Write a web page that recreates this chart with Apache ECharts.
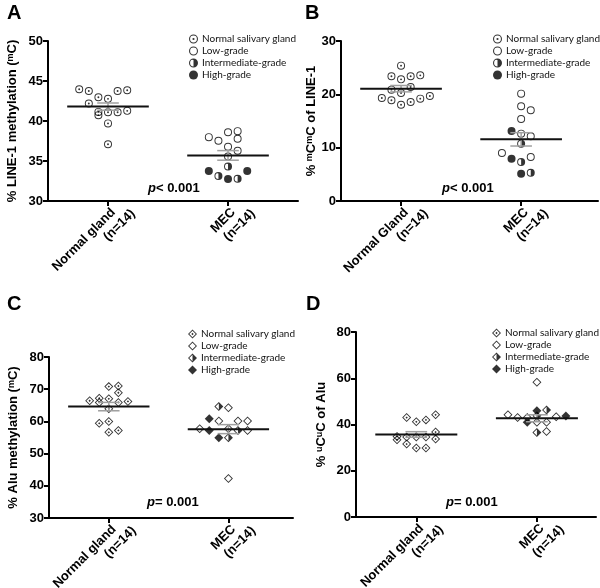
<!DOCTYPE html>
<html>
<head>
<meta charset="utf-8">
<script src="https://cdn.jsdelivr.net/npm/echarts@6/dist/echarts.min.js"></script>
<style>
  html, body { margin: 0; padding: 0; background: #fff; }
  #chart { width: 600px; height: 588px; }
</style>
</head>
<body>
<div id="chart"></div>
<script>
// group labels
const groupsA = ['Normal gland', 'MEC'];
const groupsB = ['Normal Gland', 'MEC'];
const groupN = '(n=14)';
const legendNames = ['Normal salivary gland', 'Low-grade', 'Intermediate-grade', 'High-grade'];

// [jitter, value]
const aNormal = [[-0.24, 43.97], [-0.16, 43.76], [-0.08, 42.97], [0, 42.77], [0.08, 43.76], [0.16, 43.85], [-0.16, 42.18],
  [-0.08, 41.14], [-0.08, 40.73], [0, 41.1], [0.08, 41.1], [0.16, 41.27], [0, 39.7], [0, 37.1]];
const aLow = [[-0.16, 37.98], [-0.08, 37.53], [0, 38.6], [0.08, 38.73], [0.08, 37.78], [0, 36.78], [0.08, 36.28], [0, 35.57]];
const aInter = [[0, 34.32], [-0.08, 33.12], [0.08, 32.79]];
const aHigh = [[-0.16, 33.74], [0, 32.74], [0.16, 33.74]];
const aStats = [[41.8, 0.45], [35.7, 0.6]]; // mean, sem

const bNormal = [[0, 25.38], [-0.08, 23.38], [0, 22.81], [0.08, 23.38], [0.16, 23.56], [-0.08, 20.88], [0, 20.25],
  [0.08, 21.38], [-0.16, 19.31], [-0.08, 18.88], [0, 18.06], [0.08, 18.56], [0.16, 19.19], [0.24, 19.69]];
const bLow = [[0, 20.13], [0, 17.75], [0.08, 17.0], [0, 15.38], [0, 12.63], [0.08, 12.13], [-0.16, 9.0], [0.08, 8.25]];
const bInter = [[0, 10.75], [0, 7.31], [0.08, 5.31]];
const bHigh = [[-0.08, 13.13], [-0.08, 7.94], [0, 5.13]];
const bStats = [[21.06, 0.6], [11.56, 1.25]];

const cNormal = [[0, 70.8], [0.08, 71.0], [0.08, 68.9], [-0.16, 66.4], [-0.08, 67.2], [0, 67.0], [0.08, 65.9],
  [0.16, 66.2], [-0.08, 65.9], [0, 63.9], [-0.08, 59.4], [0, 60.0], [0, 56.6], [0.08, 57.2]];
const cLow = [[0, 64.25], [-0.08, 60.1], [0.08, 60.1], [0.16, 60.1], [-0.24, 57.7], [0, 57.7], [0.16, 57.2], [0, 42.25]];
const cInter = [[-0.08, 64.66], [0.08, 57.2], [0, 54.9]];
const cHigh = [[-0.16, 60.8], [-0.16, 57.2], [-0.08, 54.9]];
const cStats = [[64.6, 1.3], [57.6, 1.4]];

const dNormal = [[-0.08, 43.0], [0, 41.16], [0.08, 42.0], [0.16, 44.18], [-0.16, 34.81], [-0.16, 33.39], [-0.08, 34.55],
  [0, 34.55], [0.08, 34.55], [0.16, 36.71], [0.16, 33.69], [-0.08, 31.53], [0, 29.81], [0.08, 29.81]];
const dLow = [[0, 58.3], [-0.24, 44.2], [-0.16, 43.0], [-0.08, 43.0], [0.16, 43.4], [0, 41.0], [0.08, 41.0], [0.08, 37.0]];
const dInter = [[0.08, 46.3], [0, 43.8], [0, 36.5]];
const dHigh = [[0, 46.0], [0.24, 43.7], [-0.08, 41.0]];
const dStats = [[35.7, 1.2], [42.7, 1.5]];

// marker shapes
const circ = (r, sw) => 'M' + r + ',0A' + r + ',' + r + ',0,1,' + sw + ',' + (-r) + ',0A' + r + ',' + r + ',0,1,' + sw + ',' + r + ',0Z';
const dia = (r, cw) => cw ? 'M0,' + (-r) + 'L' + r + ',0L0,' + r + 'L' + (-r) + ',0Z' : 'M0,' + (-r) + 'L' + (-r) + ',0L0,' + r + 'L' + r + ',0Z';
const shapes = {
  circNormal: 'path://' + circ(10, 1) + circ(7.6, 0) + circ(2.4, 1),
  circLow: 'path://' + circ(10, 1) + circ(7.6, 0),
  circInter: 'path://M0,-10A10,10,0,0,0,0,10L0,7.6A7.6,7.6,0,0,1,0,-7.6Z M0,-10A10,10,0,0,1,0,10Z',
  circHigh: 'path://' + circ(10, 1),
  diaNormal: 'path://' + dia(10, true) + dia(7.2, false) + dia(2.6, true),
  diaLow: 'path://' + dia(10, true) + dia(7.2, false),
  diaInter: 'path://M0,-10L-10,0L0,10L0,7.2L-7.2,0L0,-7.2Z M0,-10L10,0L0,10Z',
  diaHigh: 'path://' + dia(10, true)
};

const font = 'Liberation Sans';

const panels = [
  { grid: { left: 48, top: 41, width: 250, height: 160 }, xmax: 2.583, y: [30, 50, 5], groups: groupsA,
    name: '% LINE-1 methylation ({s|m}C)', gap: 29, pts: [aNormal, aLow, aInter, aHigh], stats: aStats, kind: 'circ',
    legend: [184, 29], letter: ['A', 7, 3], p: ['{i|p}< 0.001', 148, 182] },
  { grid: { left: 341, top: 41, width: 257, height: 160 }, xmax: 2.64, y: [0, 30, 10], groups: groupsB,
    name: '% {s|m}C{s|m}C of LINE-1', gap: 23, pts: [bNormal, bLow, bInter, bHigh], stats: bStats, kind: 'circ',
    legend: [488, 29], letter: ['B', 305, 3], p: ['{i|p}< 0.001', 442, 182] },
  { grid: { left: 49, top: 357, width: 244, height: 161 }, xmax: 2.54, y: [30, 80, 10], groups: groupsA,
    name: '% Alu methylation ({s|m}C)', gap: 29, pts: [cNormal, cLow, cInter, cHigh], stats: cStats, kind: 'dia',
    legend: [183, 324], letter: ['C', 7, 294], p: ['{i|p}= 0.001', 147, 496] },
  { grid: { left: 356, top: 332, width: 240, height: 185 }, xmax: 2.49, y: [0, 80, 20], groups: groupsA,
    name: '% {s|u}C{s|u}C of Alu', gap: 28, pts: [dNormal, dLow, dInter, dHigh], stats: dStats, kind: 'dia',
    legend: [487, 323], letter: ['D', 306, 294], p: ['{i|p}= 0.001', 446, 496] }
];

const kinds = ['Normal', 'Low', 'Inter', 'High'];

function renderStats(params, api) {
  const x = api.value(0), m = api.value(1), s = api.value(2);
  const l = api.coord([x - 0.34, m]), r = api.coord([x + 0.34, m]);
  const t = api.coord([x, m + s]), b = api.coord([x, m - s]);
  const cw = api.size([0.09, 0])[0];
  const grey = { stroke: '#a0a0a0', lineWidth: 1.5 };
  return {
    type: 'group',
    children: [
      { type: 'line', shape: { x1: t[0], y1: t[1], x2: b[0], y2: b[1] }, style: grey },
      { type: 'line', shape: { x1: t[0] - cw, y1: t[1], x2: t[0] + cw, y2: t[1] }, style: grey },
      { type: 'line', shape: { x1: b[0] - cw, y1: b[1], x2: b[0] + cw, y2: b[1] }, style: grey },
      { type: 'line', shape: { x1: l[0], y1: l[1], x2: r[0], y2: r[1] }, style: { stroke: '#111', lineWidth: 2 } }
    ]
  };
}

const option = {
  animation: false,
  backgroundColor: '#fff',
  grid: [], xAxis: [], yAxis: [], series: [], legend: [], graphic: []
};

panels.forEach((p, g) => {
  option.grid.push(Object.assign({ containLabel: false, outerBoundsMode: 'none' }, p.grid));
  option.xAxis.push({
    type: 'value', gridIndex: g, min: 0.5, max: p.xmax,
    axisLine: { lineStyle: { color: '#000', width: 2 } },
    axisTick: { customValues: [1, 2], length: 5, lineStyle: { color: '#000', width: 2 } },
    splitLine: { show: false },
    axisLabel: {
      customValues: [1, 2], rotate: 45, margin: 4, align: 'right', verticalAlign: 'top',
      padding: [0, -13, 0, 0], color: '#000',
      formatter: v => '{a|' + p.groups[Math.round(v) - 1] + '}\n{b|' + groupN + '}',
      rich: {
        a: { fontFamily: font, fontWeight: 'bold', fontSize: 13, color: '#000', padding: [0, 13, 0, 0], lineHeight: 15 },
        b: { fontFamily: font, fontWeight: 'bold', fontSize: 13, color: '#000', lineHeight: 15 }
      }
    }
  });
  option.yAxis.push({
    type: 'value', gridIndex: g, min: p.y[0], max: p.y[1], interval: p.y[2],
    name: p.name, nameLocation: 'middle', nameGap: p.gap, nameRotate: 90,
    nameTextStyle: {
      fontFamily: font, fontWeight: 'bold', fontSize: 13, color: '#000',
      rich: { s: { fontFamily: font, fontWeight: 'bold', fontSize: 9, color: '#000', verticalAlign: 'top' } }
    },
    axisLine: { show: true, lineStyle: { color: '#000', width: 2 } },
    axisTick: { show: true, length: 5, lineStyle: { color: '#000', width: 2 } },
    splitLine: { show: false },
    axisLabel: { fontFamily: font, fontWeight: 'bold', fontSize: 13, color: '#000', margin: 5 }
  });
  p.pts.forEach((pts, k) => {
    option.series.push({
      type: 'scatter', name: legendNames[k], xAxisIndex: g, yAxisIndex: g,
      symbol: shapes[p.kind + kinds[k]], symbolSize: p.kind === 'circ' ? 8 : 9, symbolKeepAspect: true,
      itemStyle: { color: '#000' }, z: 2,
      data: pts.map(d => [(k === 0 ? 1 : 2) + d[0], d[1]])
    });
  });
  option.series.push({
    type: 'custom', xAxisIndex: g, yAxisIndex: g, z: 3, renderItem: renderStats,
    encode: { x: 0, y: 1 },
    data: p.stats.map((s, i) => [i + 1, s[0], s[1]])
  });
  option.legend.push({
    orient: 'vertical', left: p.legend[0], top: p.legend[1], itemWidth: 9, itemHeight: 9, itemGap: 2,
    selectedMode: false,
    textStyle: { fontFamily: 'Lato', fontSize: 10, color: '#111', padding: [0, 0, 0, -1] },
    data: legendNames.map((n, k) => ({ name: n, icon: shapes[p.kind + kinds[k]] }))
  });
  option.graphic.push({
    type: 'text', left: p.letter[1], top: p.letter[2],
    style: { text: p.letter[0], fontFamily: font, fontWeight: 'bold', fontSize: 20, fill: '#000' }
  });
  option.graphic.push({
    type: 'text', left: p.p[1], top: p.p[2],
    style: {
      text: p.p[0], fontFamily: font, fontWeight: 'bold', fontSize: 13, fill: '#000',
      rich: { i: { fontFamily: font, fontWeight: 'bold', fontStyle: 'italic', fontSize: 13, fill: '#000' } }
    }
  });
});

const chart = echarts.init(document.getElementById('chart'));
chart.setOption(option);
</script>
</body>
</html>
